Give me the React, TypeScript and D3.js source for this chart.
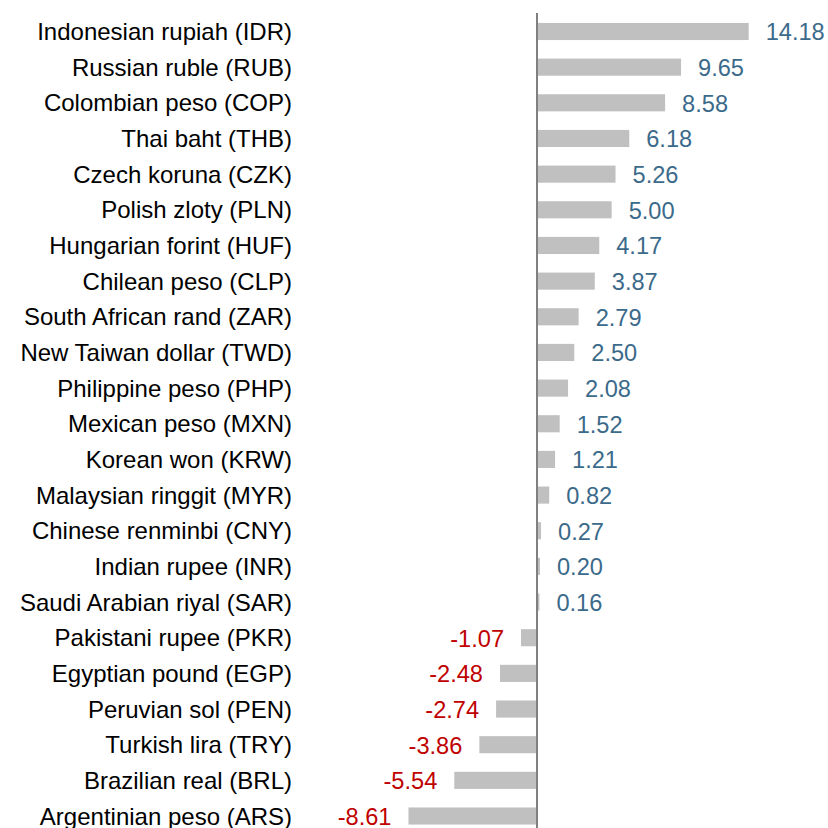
import * as d3 from "d3"

const currencies = [
  "Indonesian rupiah (IDR)",
  "Russian ruble (RUB)",
  "Colombian peso (COP)",
  "Thai baht (THB)",
  "Czech koruna (CZK)",
  "Polish zloty (PLN)",
  "Hungarian forint (HUF)",
  "Chilean peso (CLP)",
  "South African rand (ZAR)",
  "New Taiwan dollar (TWD)",
  "Philippine peso (PHP)",
  "Mexican peso (MXN)",
  "Korean won (KRW)",
  "Malaysian ringgit (MYR)",
  "Chinese renminbi (CNY)",
  "Indian rupee (INR)",
  "Saudi Arabian riyal (SAR)",
  "Pakistani rupee (PKR)",
  "Egyptian pound (EGP)",
  "Peruvian sol (PEN)",
  "Turkish lira (TRY)",
  "Brazilian real (BRL)",
  "Argentinian peso (ARS)",
]

const changes = [
  14.18, 9.65, 8.58, 6.18, 5.26, 5.0, 4.17, 3.87, 2.79, 2.5, 2.08, 1.52, 1.21,
  0.82, 0.27, 0.2, 0.16, -1.07, -2.48, -2.74, -3.86, -5.54, -8.61,
]

const W = 828
const H = 828

export default function App() {
  const step = 35.66
  const y = d3
    .scaleBand()
    .domain(currencies)
    .range([31.5 - step / 2, 31.5 - step / 2 + step * currencies.length])
    .paddingInner(0.52)
    .paddingOuter(0.26)

  const x = d3.scaleLinear().domain([0, 14.18]).range([537, 748.7])

  const labelX = 292

  return (
    <svg
      width={W}
      height={H}
      style={{ position: "absolute", left: 0, top: 0 }}
      fontFamily="'Liberation Sans', Arial, sans-serif"
    >
      <rect width={W} height={H} fill="#fff" />
      {currencies.map((c, i) => {
        const v = changes[i]
        const yc = (y(c) || 0) + y.bandwidth() / 2
        const x0 = x(Math.min(0, v))
        const x1 = x(Math.max(0, v))
        return (
          <g key={c}>
            <text
              x={labelX}
              y={yc}
              dy="0.36em"
              fontSize={24}
              textAnchor="end"
              fill="#000"
            >
              {c}
            </text>
            <rect
              x={x0}
              y={y(c)}
              width={x1 - x0}
              height={y.bandwidth()}
              fill="#c0c0c0"
            />
            <text
              x={v >= 0 ? x1 + 17 : x0 - 17}
              y={yc}
              dy="0.38em"
              fontSize={23.6}
              textAnchor={v >= 0 ? "start" : "end"}
              fill={v >= 0 ? "#3b6a8a" : "#c00000"}
            >
              {v.toFixed(2)}
            </text>
          </g>
        )
      })}
      <line x1={x(0)} x2={x(0)} y1={13} y2={H} stroke="#808080" strokeWidth={2} />
    </svg>
  )
}
